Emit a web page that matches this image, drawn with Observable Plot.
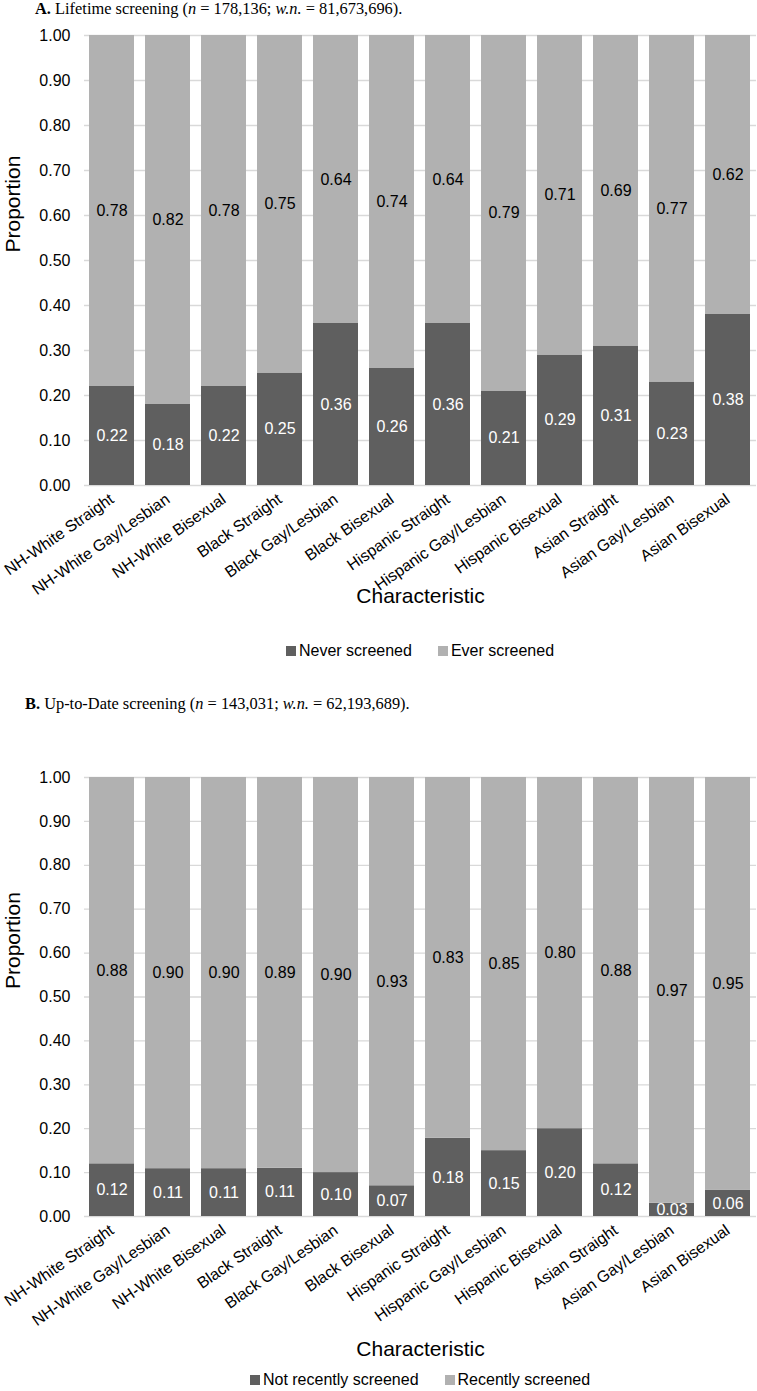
<!DOCTYPE html>
<html><head><meta charset="utf-8">
<script src="https://cdn.jsdelivr.net/npm/d3@7"></script>
<script src="https://cdn.jsdelivr.net/npm/@observablehq/plot@0.6"></script>
<style>
body{margin:0;width:757px;height:1391px;position:relative;overflow:hidden;background:#fff;font-family:"Liberation Sans",Arial,sans-serif;color:#000;}
.title{position:absolute;font-family:"Liberation Serif","Times New Roman",serif;font-size:16.4px;line-height:17px;white-space:nowrap;color:#000;}
.chart{position:absolute;left:0;}
.legend{position:absolute;left:84px;width:672px;height:20px;display:flex;justify-content:center;align-items:center;font-size:16px;line-height:20px;gap:26px;white-space:nowrap;}
.legend .sw{display:inline-block;width:10px;height:10px;margin-right:3px;vertical-align:middle;}
.legend .item{display:flex;align-items:center;}
</style></head><body>
<div class="title" style="top:0;left:35px"><b>A.</b> Lifetime screening (<i>n</i> = 178,136; <i>w.n.</i> = 81,673,696).</div>
<div class="chart" id="chartA" style="top:20px"></div>
<div class="legend" id="legendA" style="top:641px"></div>
<div class="title" style="top:695px;left:25px"><b>B.</b> Up-to-Date screening (<i>n</i> = 143,031; <i>w.n.</i> = 62,193,689).</div>
<div class="chart" id="chartB" style="top:760px"></div>
<div class="legend" id="legendB" style="top:1370px"></div>
<script>
const categories = ["NH-White Straight","NH-White Gay/Lesbian","NH-White Bisexual","Black Straight","Black Gay/Lesbian","Black Bisexual","Hispanic Straight","Hispanic Gay/Lesbian","Hispanic Bisexual","Asian Straight","Asian Gay/Lesbian","Asian Bisexual"];
const neverScreened = [0.22,0.18,0.22,0.25,0.36,0.26,0.36,0.21,0.29,0.31,0.23,0.38];
const everScreened  = [0.78,0.82,0.78,0.75,0.64,0.74,0.64,0.79,0.71,0.69,0.77,0.62];
const notRecentlyScreened = [0.12,0.11,0.11,0.11,0.10,0.07,0.18,0.15,0.20,0.12,0.03,0.06];
const recentlyScreened    = [0.88,0.90,0.90,0.89,0.90,0.93,0.83,0.85,0.80,0.88,0.97,0.95];
const seriesA = ["Never screened","Ever screened"];
const seriesB = ["Not recently screened","Recently screened"];
const yTicks = [0.0,0.1,0.2,0.3,0.4,0.5,0.6,0.7,0.8,0.9,1.0];
const barColors = ["#5f5f5f","#b1b1b1"];
const labelColors = ["#ffffff","#000000"];
const fmt = d3.format(".2f");

function makeChart(el, lower, upper, series, opts) {
  const rows = [];
  categories.forEach((c, i) => rows.push({cat: c, series: series[0], value: lower[i]}));
  categories.forEach((c, i) => rows.push({cat: c, series: series[1], value: upper[i]}));
  const stackOpts = (k) => Plot.stackY({offset: "normalize", x: "cat", y: "value",
    text: d => d.series === series[k] ? fmt(d.value) : null, fill: labelColors[k], fontSize: 16});
  const chart = Plot.plot({
    width: 757,
    height: opts.height,
    marginTop: opts.marginTop,
    marginBottom: opts.marginBottom,
    marginLeft: 84,
    marginRight: 1,
    style: {fontFamily: '"Liberation Sans", Arial, sans-serif', fontSize: "16px", color: "#000", background: "transparent", overflow: "visible"},
    x: {domain: categories, paddingInner: 0.196, paddingOuter: 0.098},
    y: {domain: [0, 1]},
    color: {domain: series, range: barColors},
    marks: [
      Plot.ruleY(yTicks, {stroke: "#d9d9d9", strokeWidth: 1.3}),
      Plot.barY(rows, Plot.stackY({offset: "normalize", x: "cat", y: "value", fill: "series", order: null})),
      Plot.text(rows, stackOpts(0)),
      Plot.text(rows, stackOpts(1)),
      Plot.axisY(yTicks, {tickFormat: fmt, tickSize: 0, tickPadding: 14, fontSize: 16, label: null}),
      Plot.axisX({tickRotate: -35, tickSize: 0, tickPadding: 12, fontSize: 16, label: null}),
      Plot.text(["Proportion"], {text: d => d, frameAnchor: "left", dx: -71, dy: -8, rotate: -90, fontSize: 21}),
      Plot.text(["Characteristic"], {text: d => d, frameAnchor: "bottom", dy: opts.xLabelDy, fontSize: 21})
    ]
  });
  document.getElementById(el).appendChild(chart);
}

function makeLegend(el, series) {
  const box = document.getElementById(el);
  series.forEach((s, k) => {
    const item = document.createElement("div");
    item.className = "item";
    item.innerHTML = `<span class="sw" style="background:${barColors[k]}"></span><span>${s}</span>`;
    box.appendChild(item);
  });
}

makeChart("chartA", neverScreened, everScreened, seriesA, {height: 600, marginTop: 15, marginBottom: 135, xLabelDy: 117});
makeChart("chartB", notRecentlyScreened, recentlyScreened, seriesB, {height: 606, marginTop: 17, marginBottom: 150, xLabelDy: 139});
makeLegend("legendA", seriesA);
makeLegend("legendB", seriesB);
</script>
</body></html>
